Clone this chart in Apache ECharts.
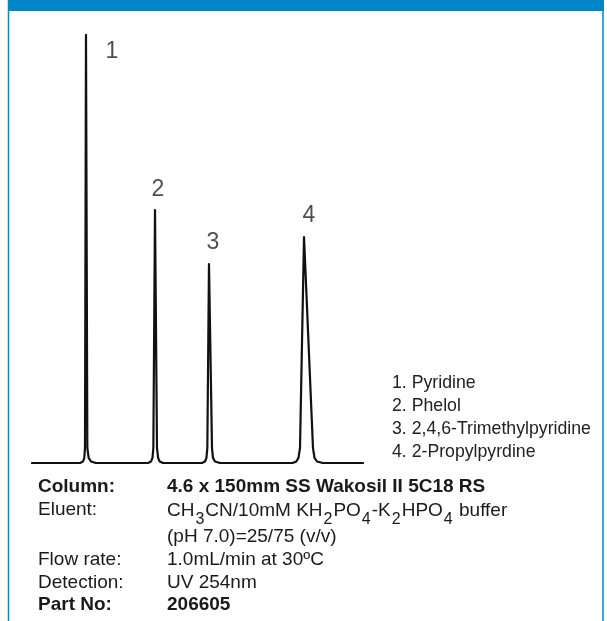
<!DOCTYPE html>
<html>
<head>
<meta charset="utf-8">
<script src="https://cdn.jsdelivr.net/npm/echarts@6/dist/echarts.min.js"></script>
<style>
  html, body { margin: 0; padding: 0; background: #ffffff; }
  #chart { width: 607px; height: 621px; }
</style>
</head>
<body>
<div id="chart"></div>
<script>
// ---- Data (time in min, signal in % of peak 1) ----
var traceTime   = [0, 1.450, 1.541, 1.580, 1.601, 1.631, 1.672, 1.712, 1.782, 1.933,
                   3.505, 3.595, 3.640, 3.666, 3.716, 3.776, 3.810, 3.857, 3.957,
                   5.136, 5.227, 5.270, 5.297, 5.347, 5.438, 5.468, 5.528, 5.680,
                   7.875, 7.986, 8.050, 8.097, 8.218, 8.489, 8.535, 8.610, 8.791, 10];
var traceSignal = [0, 0, 0.35, 1.2, 3.5, 100, 3.5, 1.2, 0.35, 0,
                   0, 0.35, 1.2, 3.5, 59.1, 3.5, 1.2, 0.35, 0,
                   0, 0.35, 1.2, 3.5, 46.5, 3.5, 1.2, 0.35, 0,
                   0, 0.35, 1.2, 3.5, 52.8, 3.5, 1.2, 0.35, 0, 0];

var peakNumbers = ['1', '2', '3', '4'];
var peakTimes   = [1.631, 3.716, 5.347, 8.218];
var peakHeights = [100, 59.1, 46.5, 52.8];

var compounds = ['1. Pyridine', '2. Phelol', '3. 2,4,6-Trimethylpyridine', '4. 2-Propylpyrdine'];

var infoLabels = ['Column:', 'Eluent:', '', 'Flow rate:', 'Detection:', 'Part No:'];
var infoValues = ['4.6 x 150mm SS Wakosil II 5C18 RS',
                  'CH3CN/10mM KH2PO4-K2HPO4 buffer',
                  '(pH 7.0)=25/75 (v/v)',
                  '1.0mL/min at 30ºC',
                  'UV 254nm',
                  '206605'];
var infoBold = [true, false, false, false, false, true];

// ---- Build chart ----
var FONT = '"Liberation Sans", Arial, Helvetica, sans-serif';
var BLUE = '#0086C9';
var TXT = '#1a1a1a';

var trace = traceTime.map(function (t, i) { return [t, traceSignal[i]]; });

var labelOffsets = [[26, 17], [3, -20], [4, -21], [5, -21]];
var peakData = peakTimes.map(function (t, i) {
  return {
    value: [t, peakHeights[i]],
    name: peakNumbers[i],
    label: { offset: labelOffsets[i] }
  };
});

function toRich(s) {
  // chemical formula digits after capital letters -> subscript
  var parts = [];
  var re = /([A-Z])(\d)/g, last = 0, m;
  while ((m = re.exec(s)) !== null) {
    parts.push('{n|' + s.slice(last, m.index + 1) + '}');
    parts.push('{s|' + m[2] + '}');
    last = m.index + 2;
  }
  parts.push('{n|' + s.slice(last) + '}');
  return parts.join('');
}

var graphics = [
  { type: 'rect', shape: { x: 8, y: 0, width: 596, height: 11 }, style: { fill: BLUE }, silent: true },
  { type: 'line', shape: { x1: 8.5, y1: 0, x2: 8.5, y2: 621 }, style: { stroke: BLUE, lineWidth: 1.5 }, silent: true },
  { type: 'line', shape: { x1: 603, y1: 0, x2: 603, y2: 621 }, style: { stroke: BLUE, lineWidth: 1.5 }, silent: true }
];

var legendY = [383, 406, 429, 452];
compounds.forEach(function (c, i) {
  graphics.push({
    type: 'text', x: 392, y: legendY[i],
    style: { text: c, fontSize: 17.7, fontFamily: FONT, fill: '#222', verticalAlign: 'middle', align: 'left' }
  });
});

var rowY = [487, 510, 537, 560, 583, 605];
infoLabels.forEach(function (lab, i) {
  var weight = infoBold[i] ? 'bold' : 'normal';
  if (lab) {
    graphics.push({
      type: 'text', x: 38, y: rowY[i],
      style: { text: lab, fontSize: 19, fontWeight: weight, fontFamily: FONT, fill: TXT,
               verticalAlign: 'middle', align: 'left' }
    });
  }
  var val = infoValues[i];
  if (i === 1) {
    graphics.push({
      type: 'text', x: 167, y: rowY[i] + 2,
      style: {
        text: toRich(val), fontSize: 19, fontFamily: FONT, fill: TXT,
        verticalAlign: 'middle', align: 'left',
        rich: {
          n: { fontSize: 19, fontFamily: FONT, fill: TXT, lineHeight: 22, verticalAlign: 'top' },
          s: { fontSize: 16, fontFamily: FONT, fill: TXT, lineHeight: 13, verticalAlign: 'bottom', padding: [0, 1, -5, 1] }
        }
      }
    });
  } else {
    graphics.push({
      type: 'text', x: 167, y: rowY[i],
      style: { text: val, fontSize: 19, fontWeight: weight, fontFamily: FONT, fill: TXT,
               verticalAlign: 'middle', align: 'left' }
    });
  }
});

var chart = echarts.init(document.getElementById('chart'), null, { renderer: 'canvas' });
chart.setOption({
  backgroundColor: '#ffffff',
  animation: false,
  grid: { left: 32, right: 244, top: 35, bottom: 158, containLabel: false },
  xAxis: { type: 'value', min: 0, max: 10, show: false },
  yAxis: { type: 'value', min: 0, max: 100, show: false },
  series: [
    {
      type: 'line',
      data: trace,
      symbol: 'none',
      lineStyle: { color: '#111', width: 2.2, join: 'round', cap: 'round' },
      z: 3
    },
    {
      type: 'scatter',
      data: peakData,
      symbolSize: 1,
      itemStyle: { color: 'rgba(0,0,0,0)' },
      label: {
        show: true,
        position: 'inside',
        formatter: '{b}',
        fontSize: 23,
        fontFamily: FONT,
        color: '#222'
      },
      z: 4
    }
  ],
  graphic: graphics
});
</script>
</body>
</html>
